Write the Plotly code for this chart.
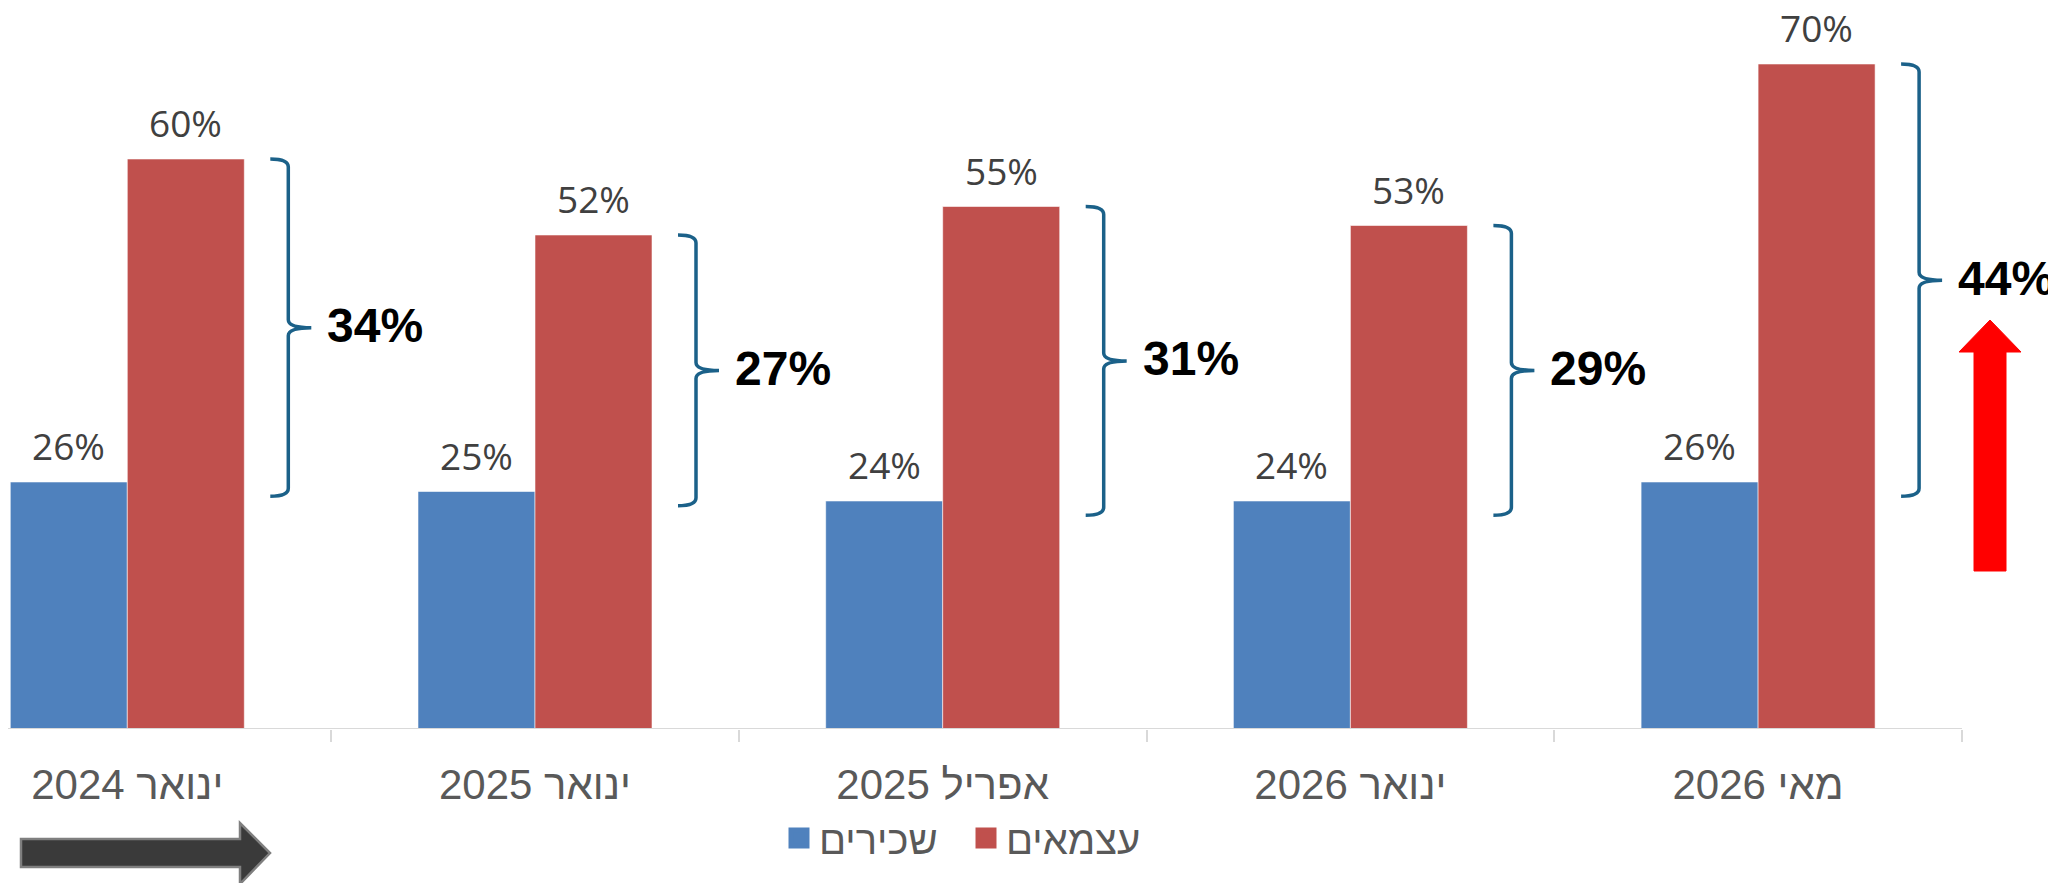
import plotly.graph_objects as go

# ---- data ----
categories = ["ינואר 2024", "ינואר 2025", "אפריל 2025", "ינואר 2026", "מאי 2026"]
employees = [26, 25, 24, 24, 26]          # שכירים
self_employed = [60, 52, 55, 53, 70]      # עצמאים
series_names = ["שכירים", "עצמאים"]

# ---- styling ----
BLUE = "#4F81BD"
RED = "#C0504D"
BRACE = "#1B6189"
OFF = 8                       # page body margin
W, H = 2056 - OFF, 883 - OFF
BASE = 729 - OFF              # baseline in figure px
PX_PER_PCT = 9.5
Y_MAX = BASE / PX_PER_PCT
PX_PER_CAT = 407.7
X0 = -(127.3 - OFF) / PX_PER_CAT
X1 = X0 + W / PX_PER_CAT

BAR_W = 117 / PX_PER_CAT
n = len(categories)
xs = list(range(n))


def px_x(px):
    return (px - OFF) / W


def px_y(py):
    return (BASE - (py - OFF)) / BASE


fig = go.Figure()
fig.add_trace(go.Bar(x=xs, y=employees, name=series_names[0], marker_color=BLUE,
                     marker_line=dict(color="rgba(255,255,255,0.55)", width=1),
                     showlegend=False, hoverinfo="skip"))
fig.add_trace(go.Bar(x=xs, y=self_employed, name=series_names[1], marker_color=RED,
                     marker_line=dict(color="rgba(255,255,255,0.55)", width=1),
                     showlegend=False, hoverinfo="skip"))
# legend entries with larger square symbols
for nm, col in zip(series_names, [BLUE, RED]):
    fig.add_trace(go.Scatter(x=[None], y=[None], mode="markers", name=nm,
                             marker=dict(symbol="square", size=16, color=col,
                                         line=dict(color=col, width=5))))

annotations = []
shapes = []
# value labels above bars
for i in xs:
    for val, off in ((employees[i], -BAR_W / 2), (self_employed[i], BAR_W / 2)):
        annotations.append(dict(x=i + off, y=val, xref="x", yref="y", text=f"{val}%",
                                showarrow=False, yanchor="bottom", yshift=9,
                                font=dict(family="Open Sans", size=37, color="#404040")))

# braces + difference labels
stem = 161 / PX_PER_CAT
hook = 18 / PX_PER_CAT
tip = 23 / PX_PER_CAT
r = 8 / PX_PER_PCT
for i in xs:
    top = self_employed[i]
    bot = employees[i] - 1.5
    mid = (top + bot) / 2
    xs_ = i + stem
    xl = xs_ - hook
    xt = xs_ + tip
    path = (f"M {xl},{top} Q {xs_},{top} {xs_},{top - r} "
            f"L {xs_},{mid + r} Q {xs_},{mid} {xt},{mid} "
            f"Q {xs_},{mid} {xs_},{mid - r} "
            f"L {xs_},{bot + r} Q {xs_},{bot} {xl},{bot}")
    shapes.append(dict(type="path", path=path, xref="x", yref="y",
                       line=dict(color=BRACE, width=3.5)))
    diff = self_employed[i] - employees[i]
    annotations.append(dict(x=i + 198 / PX_PER_CAT, y=mid, xref="x", yref="y",
                            text=f"<b>{diff}%</b>", showarrow=False,
                            xanchor="left", yanchor="middle", yshift=2,
                            font=dict(family="Liberation Sans, Arial", size=48, color="#000000")))

# baseline (category axis line)
shapes.append(dict(type="line", x0=-0.5, x1=n - 0.5, y0=0, y1=0, xref="x", yref="y",
                   line=dict(color="#D9D9D9", width=2)))

# red up arrow (right)
ra = [(1974, 571), (1974, 352), (1959, 352), (1990, 320), (2021, 352), (2006, 352), (2006, 571)]
shapes.append(dict(type="path", xref="paper", yref="paper",
                   path="M " + " L ".join(f"{px_x(a)},{px_y(b)}" for a, b in ra) + " Z",
                   fillcolor="#FF0000", line=dict(color="#FF0000", width=1)))

# dark arrow (bottom left)
da = [(21, 839), (240, 839), (240, 823), (270, 853), (240, 884), (240, 867), (21, 867)]
shapes.append(dict(type="path", xref="paper", yref="paper",
                   path="M " + " L ".join(f"{px_x(a)},{px_y(b)}" for a, b in da) + " Z",
                   fillcolor="#3A3A3A", line=dict(color="#7F7F7F", width=2.5)))

fig.update_layout(
    width=W, height=H,
    margin=dict(l=0, r=0, t=0, b=H - BASE, pad=0),
    paper_bgcolor="white", plot_bgcolor="white",
    barmode="group", bargap=1 - 2 * BAR_W, bargroupgap=0,
    showlegend=True,
    legend=dict(orientation="h", x=px_x(966), xanchor="center", y=px_y(838), yanchor="middle",
                entrywidth=142,
                font=dict(family="Liberation Sans, Open Sans, Arial", size=40, color="#595959"),
                bgcolor="rgba(0,0,0,0)"),
    xaxis=dict(range=[X0, X1], tickmode="array", tickvals=xs, ticktext=categories,
               ticks="", showline=False, showgrid=False, zeroline=False,
               ticklabelstandoff=27,
               tickfont=dict(family="Liberation Sans, Open Sans, Arial", size=42, color="#595959"),
               minor=dict(tickmode="array", tickvals=[k - 0.5 for k in range(n + 1)],
                          ticks="outside", ticklen=12, tickwidth=2, tickcolor="#D9D9D9",
                          showgrid=False)),
    yaxis=dict(range=[0, Y_MAX], visible=False, fixedrange=True),
    annotations=annotations, shapes=shapes,
)

fig.write_html("out.html")
